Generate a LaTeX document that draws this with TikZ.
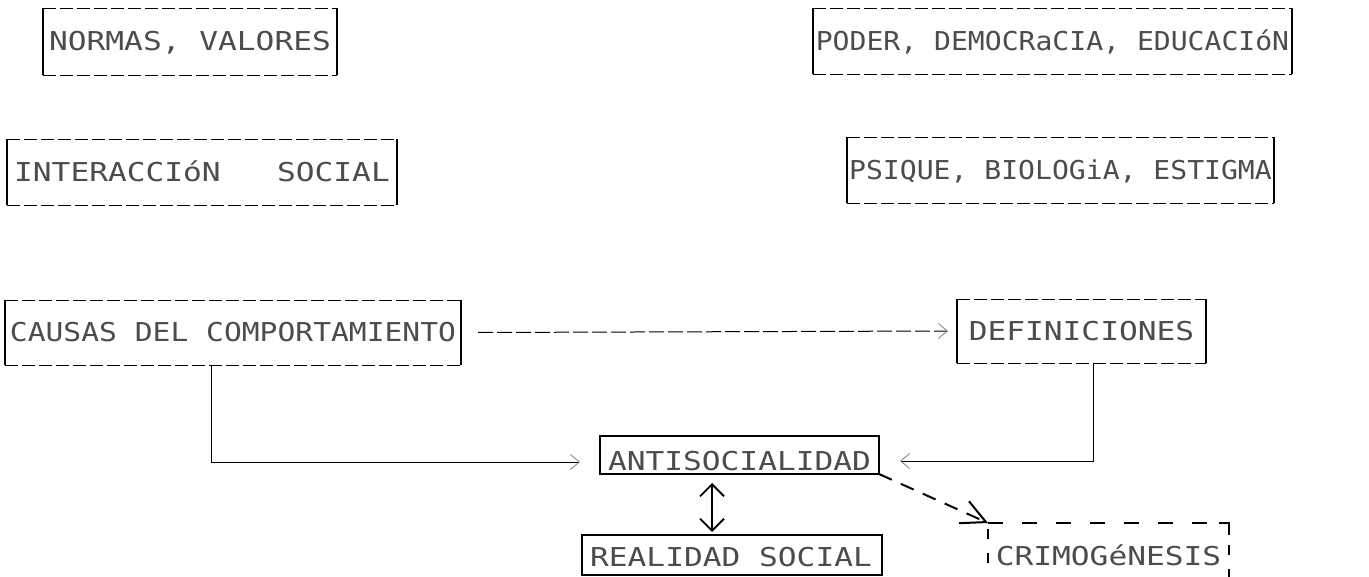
\documentclass[tikz,border=0pt]{standalone}
\usepackage{fontspec}
\usepackage{graphicx}
\newfontfamily\plotfont[FakeStretch=1.2]{DejaVu Sans Mono}
\usetikzlibrary{arrows.meta,calc}
\begin{document}
\begin{tikzpicture}[x=1pt,y=-1pt,
  box/.style={rectangle, inner sep=0pt, outer sep=0pt,
    font=\plotfont\fontsize{26}{26}\selectfont, text=black!70,
    text height=19pt, text depth=0pt},
  lbl/.style={inner sep=0pt, font=\plotfont\fontsize{26}{26}\selectfont,
    text=black!70, text height=19pt, text depth=0pt},
  finedash/.style={line width=0.8pt, dash pattern=on 13pt off 4pt},
  side/.style={line width=1.3pt},
  solidbox/.style={draw, line width=1.4pt},
  link/.style={line width=0.9pt},
  lighttip/.style={-{Straight Barb[length=9pt,width=15pt,line width=0.8pt,color=black!50]}},
  flowdash/.style={line width=1pt, dash pattern=on 15pt off 4pt},
  bigdash/.style={line width=2pt, dash pattern=on 14pt off 10pt},
  boldtip/.style={-{Straight Barb[length=24pt,width=24pt,line width=2pt]}},
  bothtips/.style={{Straight Barb[length=12pt,width=24pt,line width=1.8pt]}-{Straight Barb[length=12pt,width=24pt,line width=1.8pt]}}
]
\clip (0,0) rectangle (1369,577);
\fill[white] (0,0) rectangle (1369,577);

% upper boxes: dashed top and bottom, solid sides
\node[box, minimum width=294pt, minimum height=67pt] (normas) at (190,41.5) {NORMAS, VALORES};
\node[box, minimum width=479pt, minimum height=66pt] (poder) at (1052.5,41) {\scalebox{0.9}[1]{PODER, DEMOCRaCIA, EDUCACIóN}};
\node[box, minimum width=390pt, minimum height=66pt] (inter) at (202,172) {INTERACCIóN\ \ \ SOCIAL};
\node[box, minimum width=427pt, minimum height=66pt] (psique) at (1060.5,170) {\scalebox{0.9}[1]{PSIQUE, BIOLOGiA, ESTIGMA}};
\node[box, minimum width=456pt, minimum height=65pt] (causas) at (233,332.5) {\scalebox{0.95}[1]{CAUSAS DEL COMPORTAMIENTO}};
\node[box, minimum width=249pt, minimum height=64pt] (defin) at (1081.5,331) {DEFINICIONES};

\foreach \n in {normas,poder,inter,psique,causas,defin} {
  \draw[finedash] (\n.north west) -- (\n.north east);
  \draw[finedash] (\n.south west) -- (\n.south east);
  \draw[side] (\n.north west) -- (\n.south west);
  \draw[side] (\n.north east) -- (\n.south east);
}

% lower boxes
\node[box, solidbox, minimum width=279pt, minimum height=38pt] (antis) at (739.5,455) {};
\node[lbl] (antisT) at (739.5,461) {ANTISOCIALIDAD};
\node[box, solidbox, minimum width=300pt, minimum height=40pt] (realidad) at (732,555) {};
\node[lbl] (realidadT) at (731,557) {REALIDAD SOCIAL};
\node[box, minimum width=241pt, minimum height=70pt] (crimo) at (1108.5,558) {};
\node[lbl] (crimoT) at (1108.5,556) {CRIMOGéNESIS};
\draw[line width=2pt, dash pattern=on 15pt off 19pt] (crimo.north west) -- (crimo.north east);
\draw[line width=1.5pt, dash pattern=on 10pt off 14pt] ([yshift=-6pt]crimo.north west) -- (crimo.south west);
\draw[line width=2pt] ([xshift=-10pt]crimo.north east) -- (crimo.north east) -- ([yshift=-12pt]crimo.north east);
\draw[line width=1.5pt, dash pattern=on 10pt off 14pt] ([yshift=-22pt]crimo.north east) -- (crimo.south east);

% connectors
\draw[flowdash, lighttip] ([xshift=17pt]causas.east) -- ([xshift=-9pt]defin.west);
\draw[link, lighttip] ([xshift=-22pt]causas.south) |- ([xshift=-20pt,yshift=-7pt]antis.west);
\draw[link, lighttip] ([xshift=11.5pt]defin.south) |- ([xshift=21pt,yshift=-6pt]antis.east);
\draw[line width=1.2pt, bothtips] ([xshift=-27.5pt,yshift=-9pt]antis.south) -- ([xshift=-20pt,yshift=3pt]realidad.north);
\draw[bigdash, boldtip] (antis.south east) -- (crimo.north west);
\end{tikzpicture}
\end{document}
